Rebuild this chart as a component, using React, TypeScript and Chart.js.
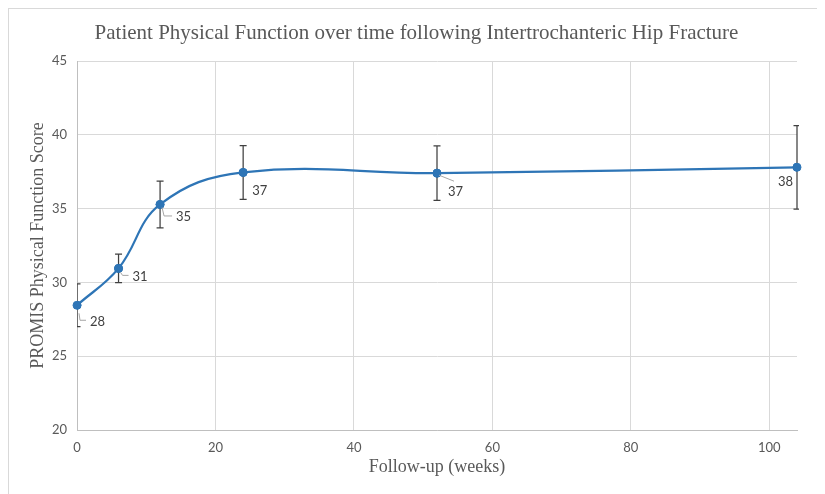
import React, { useEffect, useRef } from "react";
import { Chart, registerables } from "chart.js";

Chart.register(...registerables);

// ---- data ----
const weeks = [0, 6, 12, 24, 52, 104];
const scores = [28.45, 30.95, 35.28, 37.45, 37.4, 37.8];
const errors = [1.45, 0.97, 1.58, 1.82, 1.85, 2.83];
const pointLabels = ["28", "31", "35", "37", "37", "38"];

const titleText = "Patient Physical Function over time following Intertrochanteric Hip Fracture";
const yTitle = "PROMIS Physical Function Score";
const xTitle = "Follow-up (weeks)";

// ---- styles (label placement relative to point pixel) ----
const labelStyle = [
  { dx: 13, dy: 17, leader: [[2, 8], [3, 15], [9, 15]] },
  { dx: 14, dy: 8, leader: [[2, 4], [4, 7], [10, 7]] },
  { dx: 16, dy: 12.5, leader: [[2, 3], [4, 11.5], [12, 11.5]] },
  { dx: 9, dy: 18, leader: null },
  { dx: 11, dy: 19, leader: [[2, 2], [17, 8]] },
  { dx: -19, dy: 15, leader: null },
];

const BLUE = "#2e75b6";
const GRAY_TEXT = "#595959";
const GRID = "#d9d9d9";
const SANS = "Lato, 'Noto Sans', sans-serif";
const SERIF = "'Liberation Serif', 'DejaVu Serif', serif";

const errorBarPlugin = {
  id: "errorBars",
  afterDatasetsDraw(chart: any) {
    const { ctx, chartArea, scales } = chart;
    const xs = scales.x;
    const ys = scales.y;
    ctx.save();
    ctx.beginPath();
    ctx.rect(chartArea.left, chartArea.top - 1, chartArea.right - chartArea.left + 2, chartArea.bottom - chartArea.top + 2);
    ctx.clip();
    ctx.strokeStyle = "#404040";
    ctx.lineWidth = 1.25;
    weeks.forEach((w, i) => {
      const x = xs.getPixelForValue(w);
      const yt = ys.getPixelForValue(scores[i] + errors[i]);
      const yb = ys.getPixelForValue(scores[i] - errors[i]);
      ctx.beginPath();
      ctx.moveTo(x, yt);
      ctx.lineTo(x, yb);
      ctx.moveTo(x - 3.5, yt);
      ctx.lineTo(x + 3.5, yt);
      ctx.moveTo(x - 3.5, yb);
      ctx.lineTo(x + 3.5, yb);
      ctx.stroke();
    });
    ctx.restore();

    // redraw points on top
    const meta = chart.getDatasetMeta(0);
    meta.data.forEach((pt: any) => pt.draw(ctx, chartArea));

    // data labels
    ctx.save();
    ctx.font = `13px ${SANS}`;
    ctx.fillStyle = "#404040";
    ctx.textAlign = "left";
    ctx.textBaseline = "middle";
    weeks.forEach((w, i) => {
      const x = xs.getPixelForValue(w);
      const y = ys.getPixelForValue(scores[i]);
      const st = labelStyle[i];
      if (st.leader) {
        ctx.strokeStyle = "#a6a6a6";
        ctx.lineWidth = 1;
        ctx.beginPath();
        st.leader.forEach((p, k) => {
          if (k === 0) ctx.moveTo(x + p[0], y + p[1]);
          else ctx.lineTo(x + p[0], y + p[1]);
        });
        ctx.stroke();
      }
      ctx.fillText(pointLabels[i], x + st.dx, y + st.dy);
    });
    ctx.restore();
  },
};

export default function App() {
  const ref = useRef<HTMLCanvasElement | null>(null);
  useEffect(() => {
    if (!ref.current) return;
    const chart = new Chart(ref.current, {
      type: "line",
      data: {
        datasets: [
          {
            data: weeks.map((w, i) => ({ x: w, y: scores[i] })),
            borderColor: BLUE,
            backgroundColor: BLUE,
            borderWidth: 2.25,
            pointRadius: 4,
            pointHoverRadius: 4,
            pointBackgroundColor: BLUE,
            pointBorderColor: BLUE,
            pointBorderWidth: 1,
            tension: 0.4,
            fill: false,
          },
        ],
      },
      options: {
        responsive: false,
        animation: false,
        events: [],
        layout: { padding: { left: 3, right: 0, top: 0, bottom: 0 } },
        plugins: {
          legend: { display: false },
          tooltip: { enabled: false },
          title: {
            display: true,
            text: titleText,
            color: GRAY_TEXT,
            font: { family: SERIF, size: 21, weight: "normal" },
            padding: { top: 12, bottom: 14.8 },
          },
        },
        scales: {
          x: {
            type: "linear",
            min: 0,
            max: 104,
            ticks: {
              stepSize: 20,
              includeBounds: false,
              color: GRAY_TEXT,
              font: { family: SANS, size: 13 },
              padding: 10,
              maxRotation: 0,
            },
            grid: { color: GRID, drawTicks: false, lineWidth: 1 },
            border: { color: "#bfbfbf", width: 1 },
            title: {
              display: true,
              text: xTitle,
              color: GRAY_TEXT,
              font: { family: SERIF, size: 18, weight: "normal" },
              padding: { top: 0, bottom: 16 },
            },
            afterFit: (s: any) => {
              s.height = 64;
            },
          },
          y: {
            type: "linear",
            position: "left",
            min: 20,
            max: 45,
            ticks: {
              stepSize: 5,
              color: GRAY_TEXT,
              font: { family: SANS, size: 13 },
              padding: 10,
            },
            grid: { color: GRID, drawTicks: false, lineWidth: 1 },
            border: { color: "#bfbfbf", width: 1 },
            title: {
              display: true,
              text: yTitle,
              color: GRAY_TEXT,
              font: { family: SERIF, size: 18, weight: "normal" },
              padding: { top: 15, bottom: 0 },
            },
            afterFit: (s: any) => {
              s.width = 65;
            },
          },
          ySpacer: {
            type: "linear",
            position: "right",
            min: 20,
            max: 45,
            ticks: { display: false },
            grid: { display: false, drawTicks: false },
            border: { display: false },
            title: { display: false },
            afterFit: (s: any) => {
              s.width = 24;
            },
          },
        },
      } as any,
      plugins: [errorBarPlugin],
    });
    return () => chart.destroy();
  }, []);

  return (
    <div
      style={{
        border: "1px solid #d9d9d9",
        width: 812,
        height: 490,
        background: "#ffffff",
      }}
    >
      <canvas ref={ref} width={812} height={485} style={{ display: "block" }} />
    </div>
  );
}
